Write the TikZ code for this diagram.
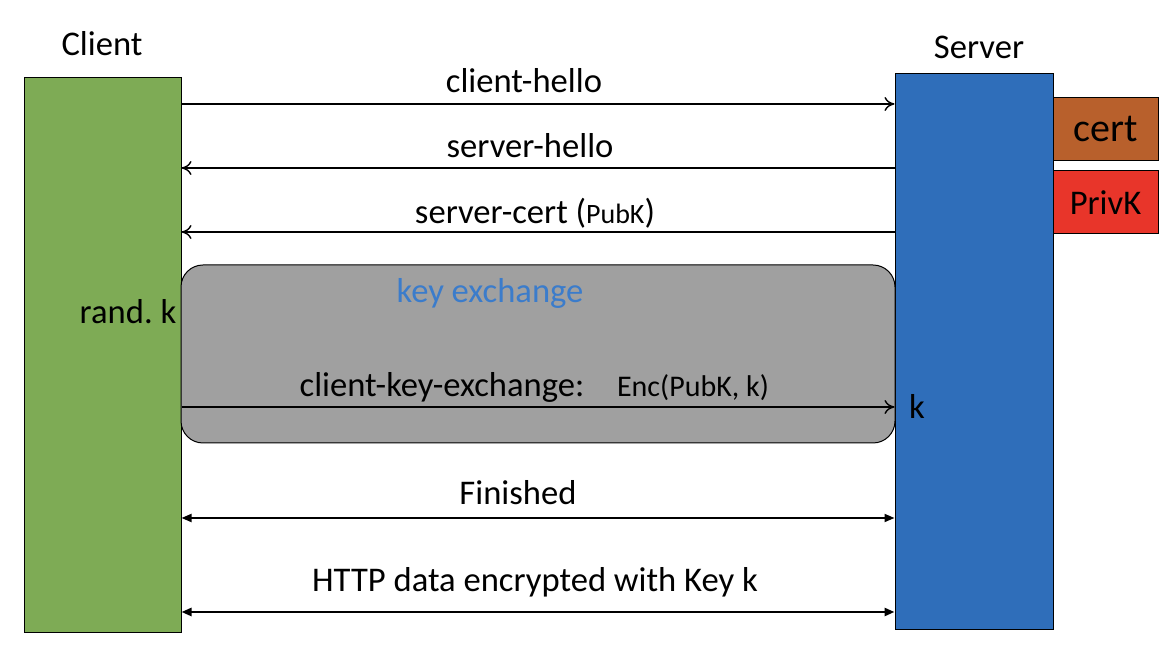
\documentclass[tikz,border=0pt]{standalone}
\usepackage{fontspec}
\setmainfont{Carlito}
\usetikzlibrary{arrows.meta}
\definecolor{clientgreen}{HTML}{7EAB55}
\definecolor{serverblue}{HTML}{2F6EBA}
\definecolor{certbrown}{HTML}{B8602C}
\definecolor{privred}{HTML}{E8352A}
\definecolor{kxgray}{HTML}{A0A0A0}
\definecolor{kxblue}{HTML}{3B7CCB}
\frenchspacing

\begin{document}
\begin{tikzpicture}[x=0.5pt,y=-0.5pt,
  every node/.style={font=\fontsize{17.3}{20}\selectfont},
  party/.style={draw,line width=0.5pt,inner sep=0pt},
  lbl/.style={anchor=base},
  msg/.style={line width=0.7pt,-{To[length=5pt,width=7pt]}},
  both/.style={line width=0.9pt,{Triangle[length=5pt,width=4pt]}-{Triangle[length=5pt,width=4pt]}}]
\useasboundingbox (0,0) rectangle (1174,672);
\node[party,fill=clientgreen,minimum width=78.5pt,minimum height=277.5pt] (client) at (102.5,355.5) {};
\node[party,fill=serverblue,minimum width=79pt,minimum height=278pt] (server) at (974,352) {};
\node[party,fill=certbrown,minimum width=52.5pt,minimum height=31.5pt,font=\fontsize{20}{24}\selectfont] (cert) at (1105.5,129.5) {cert};
\node[party,fill=privred,minimum width=52.5pt,minimum height=31.5pt] (privk) at (1105.5,202.5) {PrivK};
\node[lbl] (clientlbl) at (102,56) {Client};
\node[lbl] (serverlbl) at (979,59) {Server};
% key exchange
\node[draw,fill=kxgray,line width=0.5pt,rounded corners=11pt,minimum width=357pt,minimum height=89pt] (kx) at (538,354) {};
\node[lbl,text=kxblue] (kxlbl) at (490,303) {key exchange};
\node[lbl] (randk) at (128,324) {rand. k};
\node[lbl] (k) at (917,419) {k};
% messages
\draw[msg] (client.east |- 0,104) -- (server.west |- 0,104);
\node[lbl] (hello) at (524,93) {client-hello};
\draw[msg] (server.west |- 0,168) -- (client.east |- 0,168);
\node[lbl] (shello) at (530,158) {server-hello};
\draw[msg] (server.west |- 0,232) -- (client.east |- 0,232);
\node[lbl] (scert) at (535,224) {server-cert (\fontsize{14}{16}\selectfont PubK\fontsize{17.3}{20}\selectfont)};
\draw[msg] (client.east |- 0,407) -- (server.west |- 0,407);
\node[lbl] (cke) at (442,397) {client-key-exchange:};
\node[lbl,font=\fontsize{15}{18}\selectfont] (enc) at (693,397) {Enc(PubK, k)};
\draw[both] (client.east |- 0,518) -- (server.west |- 0,518);
\node[lbl] (fin) at (518,505) {Finished};
\draw[both,line width=1.4pt] (client.east |- 0,612) -- (server.west |- 0,612);
\node[lbl] (http) at (535,592) {HTTP data encrypted with Key k};
\end{tikzpicture}
\end{document}
